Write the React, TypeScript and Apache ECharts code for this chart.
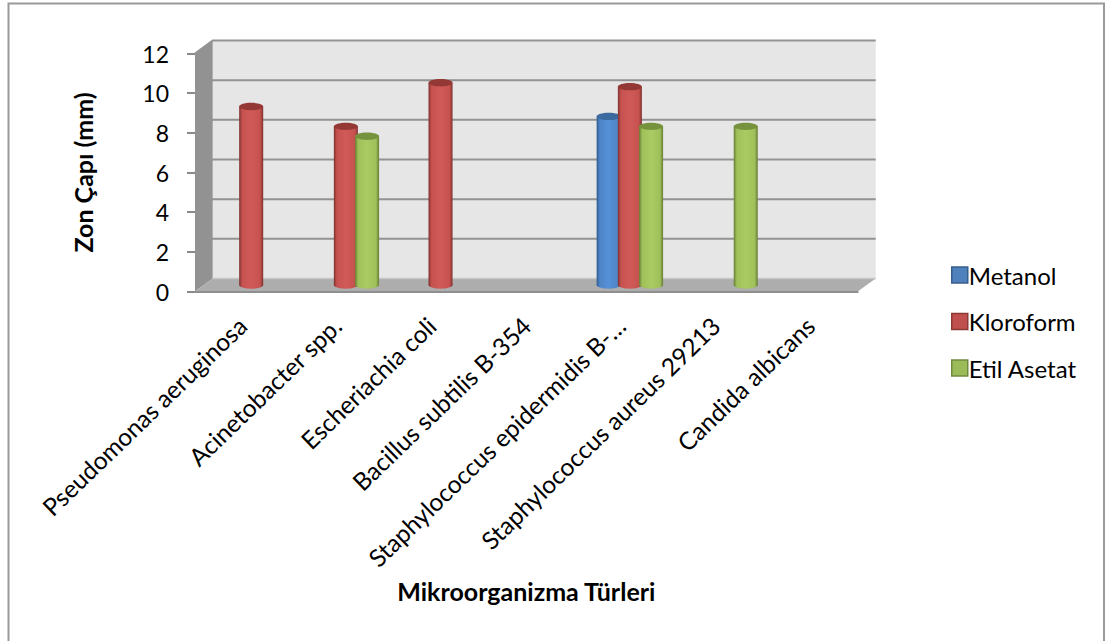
import React, { useEffect, useRef } from "react";
import * as echarts from "echarts";

const categories = [
  "Pseudomonas aeruginosa",
  "Acinetobacter spp.",
  "Escheriachia coli",
  "Bacillus subtilis B-354",
  "Staphylococcus epidermidis B-…",
  "Staphylococcus aureus 29213",
  "Candida albicans",
];
const metanol = [null, null, null, null, 8.5, null, null];
const kloroform = [9, 8, 10.2, null, 10, null, null];
const etilAsetat = [null, 7.5, null, null, 8, 8, null];
const gridValues = [2, 4, 6, 8, 10, 12];

const FONT = "Lato";

// Receding offset of the back wall relative to the front plane.
const DEPTH_X = 17.7;
const DEPTH_Y = -13;

type Tone = { light: string; mid: string; dark: string; cap: string; swatch: string; edge: string };

const toneBlue: Tone = { light: "#5690d8", mid: "#4f85c6", dark: "#2c5a8e", cap: "#3b6a9f", swatch: "#4f81bd", edge: "#385d8a" };
const toneRed: Tone = { light: "#d05a57", mid: "#c6524f", dark: "#7f3230", cap: "#943836", swatch: "#c0504d", edge: "#8c3836" };
const toneGreen: Tone = { light: "#aacb62", mid: "#a0c05b", dark: "#657e33", cap: "#76923c", swatch: "#9bbb59", edge: "#71893f" };

function cylinderFill(t: Tone) {
  return new echarts.graphic.LinearGradient(0, 0, 1, 0, [
    { offset: 0, color: t.dark },
    { offset: 0.13, color: t.mid },
    { offset: 0.5, color: t.light },
    { offset: 0.87, color: t.mid },
    { offset: 1, color: t.dark },
  ]);
}

function cylinderSeries(name: string, values: (number | null)[], slot: number, tone: Tone) {
  return {
    name,
    type: "custom",
    coordinateSystem: "cartesian2d",
    clip: false,
    encode: { x: 0, y: 1 },
    itemStyle: { color: tone.swatch },
    data: values.map((v, i) => [i, v]),
    renderItem: (_p: unknown, api: any) => {
      const v = api.value(1);
      if (v === null || v === undefined || Number.isNaN(v)) return null;
      const idx = api.value(0);
      const top = api.coord([idx, v]);
      const base = api.coord([idx, 0]);
      const band = api.size([1, 0])[0];
      const halfW = band * 0.127;
      const ry = 3.7;
      const cx = top[0] + slot * band * 0.224 + DEPTH_X / 2;
      const yTop = top[1] + DEPTH_Y / 2;
      const yBase = base[1] + DEPTH_Y / 2;
      const fill = cylinderFill(tone);
      return {
        type: "group",
        children: [
          { type: "ellipse", shape: { cx, cy: yBase, rx: halfW, ry }, style: { fill } },
          { type: "rect", shape: { x: cx - halfW, y: yTop, width: halfW * 2, height: yBase - yTop }, style: { fill } },
          { type: "ellipse", shape: { cx, cy: yTop, rx: halfW, ry }, style: { fill: tone.cap } },
        ],
      };
    },
  };
}

export default function App() {
  const ref = useRef<HTMLDivElement>(null);

  useEffect(() => {
    const chart = echarts.init(ref.current!, undefined, { renderer: "svg" });
    chart.setOption({
      animation: false,
      backgroundColor: "#ffffff",
      textStyle: { fontFamily: FONT },
      grid: { left: 195, top: 53.5, width: 662.7, height: 238 },
      xAxis: {
        type: "category",
        data: categories,
        boundaryGap: true,
        z: 3,
        axisLine: { lineStyle: { color: "#8f8f8f", width: 2 } },
        axisTick: { show: false },
        axisLabel: { interval: 0, rotate: 44, margin: 30, fontFamily: FONT, fontSize: 24.5, color: "#000000" },
        name: "Mikroorganizma Türleri",
        nameLocation: "middle",
        nameGap: 287,
        nameTextStyle: { fontFamily: FONT, fontSize: 25, fontWeight: "bold", color: "#000000" },
      },
      yAxis: {
        type: "value",
        min: 0,
        max: 12,
        interval: 2,
        splitLine: { show: false },
        axisLine: { show: false },
        axisTick: { show: true, length: 8, lineStyle: { color: "#8a8a8a", width: 2 } },
        axisLabel: { margin: 26, fontFamily: FONT, fontSize: 23, color: "#000000", padding: [8, 0, 0, 0] },
        name: "Zon Çapı (mm)",
        nameLocation: "middle",
        nameGap: 100,
        nameTextStyle: { fontFamily: FONT, fontSize: 25, fontWeight: "bold", color: "#000000" },
      },
      legend: {
        orient: "vertical",
        left: 946,
        top: 258,
        itemWidth: 16,
        itemHeight: 16,
        itemGap: 22.5,
        icon: "rect",
        textStyle: { fontFamily: FONT, fontSize: 24, color: "#000000", padding: [0, 0, 0, -4] },
        data: [
          { name: "Metanol", itemStyle: { color: toneBlue.swatch, borderColor: toneBlue.edge, borderWidth: 1.5 } },
          { name: "Kloroform", itemStyle: { color: toneRed.swatch, borderColor: toneRed.edge, borderWidth: 1.5 } },
          { name: "Etil Asetat", itemStyle: { color: toneGreen.swatch, borderColor: toneGreen.edge, borderWidth: 1.5 } },
        ],
      },
      graphic: [
        {
          type: "polyline",
          shape: { points: [[8.5, 641], [8.5, 3.5], [1104, 3.5], [1104, 641]] },
          style: { fill: "none", stroke: "#9a9a9a", lineWidth: 2 },
        },
      ],
      series: [
        {
          // Side wall, floor and back wall of the plot box.
          name: "walls",
          type: "custom",
          coordinateSystem: "cartesian2d",
          clip: false,
          silent: true,
          data: [[0, 0]],
          encode: { x: 0, y: 1 },
          renderItem: (params: any, api: any) => {
            const grid = params.coordSys;
            const x0 = grid.x;
            const x1 = grid.x + grid.width;
            const top = api.coord([0, 12])[1];
            const bot = api.coord([0, 0])[1];
            const bx0 = x0 + DEPTH_X;
            const bx1 = x1 + DEPTH_X + 0.3;
            return {
              type: "group",
              children: [
                {
                  type: "polygon",
                  shape: { points: [[bx0, top + DEPTH_Y], [bx1, top + DEPTH_Y], [bx1, bot + DEPTH_Y], [bx0, bot + DEPTH_Y]] },
                  style: { fill: "#e6e6e6" },
                },
                {
                  type: "polygon",
                  shape: { points: [[x0, top], [bx0, top + DEPTH_Y], [bx0, bot + DEPTH_Y], [x0, bot]] },
                  style: { fill: "#929292" },
                },
                {
                  type: "polygon",
                  shape: { points: [[x0, bot], [bx0, bot + DEPTH_Y], [bx1, bot + DEPTH_Y], [x1, bot]] },
                  style: { fill: "#adadad" },
                },
                {
                  type: "line",
                  shape: { x1: bx0, y1: bot + DEPTH_Y, x2: bx1, y2: bot + DEPTH_Y },
                  style: { stroke: "#c8c8c8", lineWidth: 1.5 },
                },
              ],
            };
          },
        },
        {
          // Gridlines: a diagonal on the side wall, then across the back wall.
          name: "gridlines",
          type: "custom",
          coordinateSystem: "cartesian2d",
          clip: false,
          silent: true,
          data: gridValues.map((v) => [0, v]),
          encode: { x: 0, y: 1 },
          renderItem: (params: any, api: any) => {
            const grid = params.coordSys;
            const y = api.coord([0, api.value(1)])[1];
            const x0 = grid.x;
            const bx0 = x0 + DEPTH_X;
            const bx1 = grid.x + grid.width + DEPTH_X + 0.3;
            return {
              type: "group",
              children: [
                {
                  type: "polyline",
                  shape: { points: [[x0, y], [bx0, y + DEPTH_Y], [bx1, y + DEPTH_Y]] },
                  style: { fill: "none", stroke: "#939393", lineWidth: 2 },
                },
              ],
            };
          },
        },
        cylinderSeries("Metanol", metanol, -1, toneBlue),
        cylinderSeries("Kloroform", kloroform, 0, toneRed),
        cylinderSeries("Etil Asetat", etilAsetat, 1, toneGreen),
      ],
    });
    return () => chart.dispose();
  }, []);

  return (
    <div
      ref={ref}
      style={{ position: "fixed", left: 0, top: 0, width: 1105, height: 641, background: "#ffffff" }}
    />
  );
}
